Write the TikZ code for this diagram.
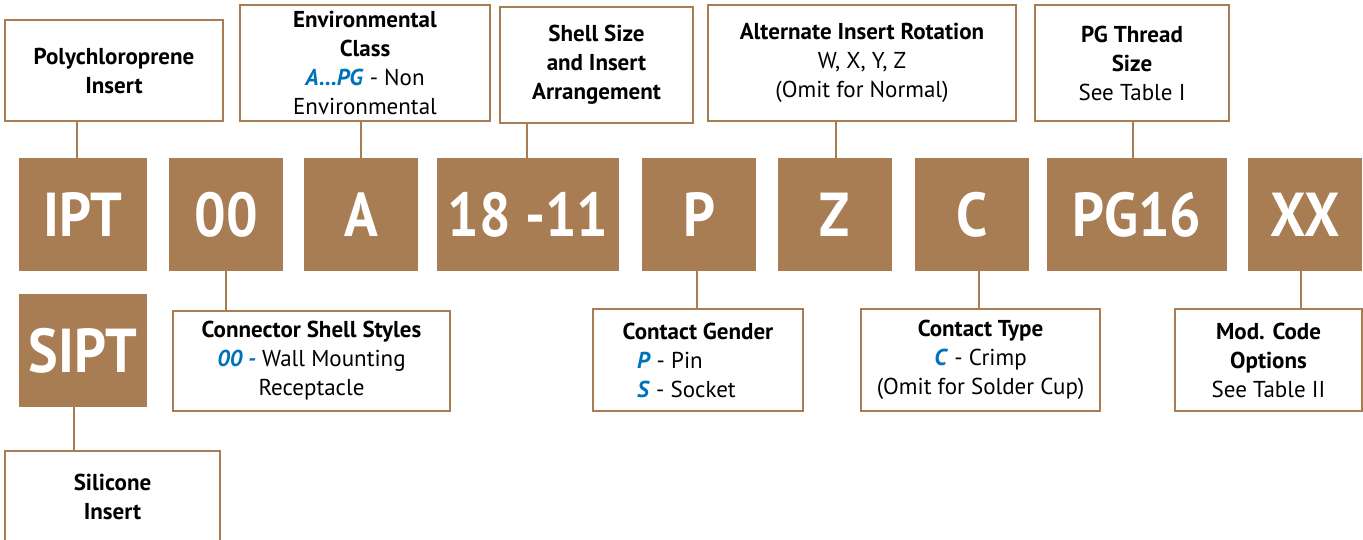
\documentclass[tikz,border=0pt]{standalone}
\usepackage{fontspec}
\setmainfont{PT Sans}
\newfontfamily\codefont[FakeStretch=0.9]{PT Sans}
\usetikzlibrary{positioning}

\definecolor{bronze}{RGB}{169,125,83}
\definecolor{codeblue}{RGB}{0,114,188}
\newcommand{\optkey}[1]{\textcolor{codeblue}{\textbf{\textit{#1}}}}

\begin{document}
\begin{tikzpicture}[x=1pt,y=-1pt]

% Box styles
\tikzset{
    code/.style={fill=bronze,text=white,inner sep=0pt,minimum height=113pt,
        font=\codefont\fontsize{62}{62}\selectfont\bfseries},
    desc/.style={draw=bronze,line width=2.4pt,fill=white,align=center,
        inner sep=0pt,font=\fontsize{23}{29}\selectfont},
    link/.style={draw=bronze,line width=2pt}
}

\useasboundingbox (0,0) rectangle (1363,539);

% Part number
\node[code,minimum width=128pt] (ipt) at (83,214.5) {IPT};
\node[code,minimum width=114pt] (style) at (226,214.5) {00};
\node[code,minimum width=114pt] (class) at (361,214.5) {A};
\node[code,minimum width=182pt] (size) at (528,214.5) {18 -11};
\node[code,minimum width=114pt] (gend) at (699,214.5) {P};
\node[code,minimum width=114pt] (rota) at (835,214.5) {Z};
\node[code,minimum width=114pt] (cont) at (972,214.5) {C};
\node[code,minimum width=180pt] (thrd) at (1137,214.5) {PG16};
\node[code,minimum width=114pt] (modc) at (1305,214.5) {XX};
\node[code,minimum width=128pt] (sipt) at (83,350.5) {SIPT};

% Descriptions above
\node[desc,minimum width=218pt,minimum height=101pt] (poly) at (114,70.5)
    {\textbf{Polychloroprene}\\\textbf{Insert}};
\node[desc,minimum width=250pt,minimum height=116pt] (env) at (365,63)
    {\textbf{Environmental}\\\textbf{Class}\\\optkey{A...PG} - Non\\Environmental};
\node[desc,minimum width=193pt,minimum height=116pt] (arr) at (596.5,65)
    {\textbf{Shell Size}\\\textbf{and Insert}\\\textbf{Arrangement}};
\node[desc,minimum width=308pt,minimum height=116pt] (alt) at (862,63)
    {\textbf{Alternate Insert Rotation}\\W, X, Y, Z\\(Omit for Normal)};
\node[desc,minimum width=194pt,minimum height=116pt] (pgt) at (1132,63)
    {\textbf{PG Thread}\\\textbf{Size}\\See Table I};

% Descriptions below
\node[desc,minimum width=277pt,minimum height=100pt] (shst) at (311.5,361)
    {\textbf{Connector Shell Styles}\\\optkey{00 -} Wall Mounting\\Receptacle};
\node[desc,minimum width=210pt,minimum height=102pt] (cgen) at (698,360)
    {\textbf{Contact Gender}\\\makebox[122pt][l]{\optkey{P} - Pin}\\
     \makebox[122pt][l]{\optkey{S} - Socket}};
\node[desc,minimum width=239pt,minimum height=102pt] (ctyp) at (980.5,360)
    {\textbf{Contact Type}\\\optkey{C} - Crimp\\(Omit for Solder Cup)};
\node[desc,minimum width=187pt,minimum height=102pt] (mopt) at (1268.5,360)
    {\textbf{Mod. Code}\\\textbf{Options}\\See Table II};
\node[desc,minimum width=215pt,minimum height=92pt,anchor=north] (sil) at (112.5,450)
    {\textbf{Silicone}\\\textbf{Insert}};

% Links
\draw[link] ([xshift=-6pt]ipt.north) -- ([xshift=-6pt]ipt.north |- poly.south);
\draw[link] (class.north) -- (class.north |- env.south);
\draw[link] ([xshift=-1pt]size.north) -- ([xshift=-1pt]size.north |- arr.south);
\draw[link] ([xshift=1pt]rota.north) -- ([xshift=1pt]rota.north |- alt.south);
\draw[link] ([xshift=-4pt]thrd.north) -- ([xshift=-4pt]thrd.north |- pgt.south);
\draw[link] (style.south) -- (style.south |- shst.north);
\draw[link] ([xshift=-2pt]gend.south) -- ([xshift=-2pt]gend.south |- cgen.north);
\draw[link] ([xshift=7pt]cont.south) -- ([xshift=7pt]cont.south |- ctyp.north);
\draw[link] ([xshift=-4pt]modc.south) -- ([xshift=-4pt]modc.south |- mopt.north);
\draw[link] ([xshift=-9pt]sipt.south) -- ([xshift=-9pt]sipt.south |- sil.north);

\end{tikzpicture}
\end{document}
